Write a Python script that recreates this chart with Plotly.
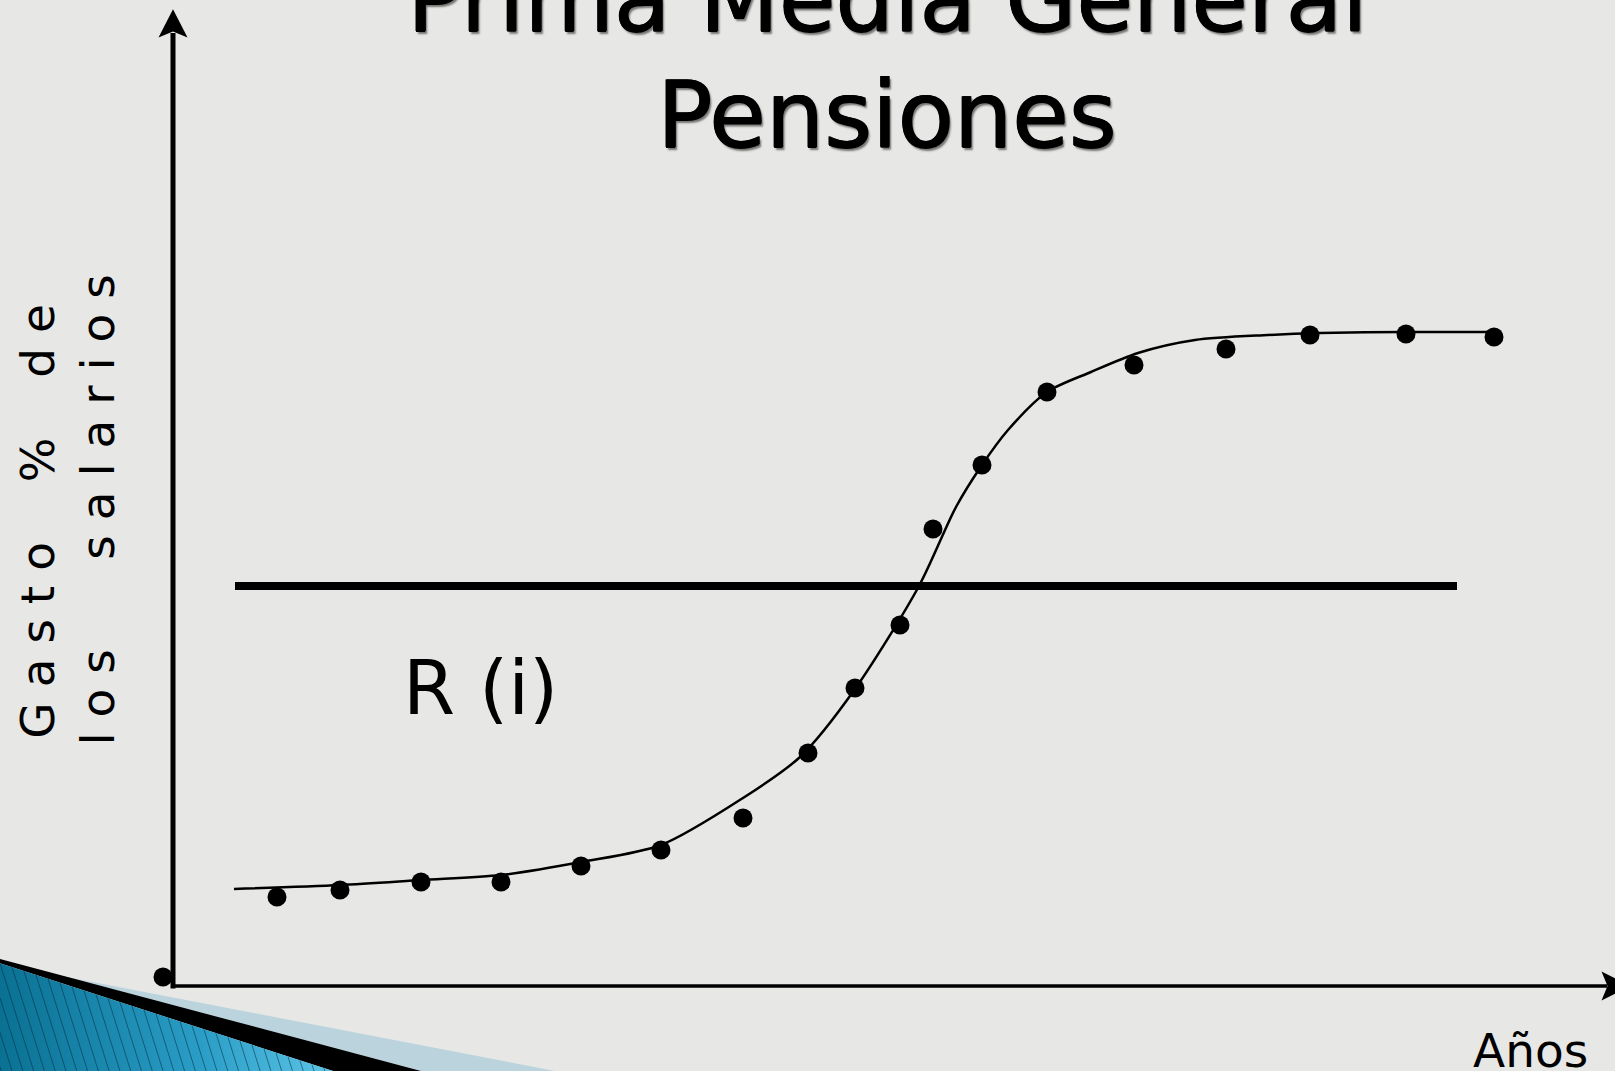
import plotly.graph_objects as go

# ---------------- data (chart units: x = años, y = gasto % de los salarios) ----------------
anos = [10.4, 16.7, 24.8, 32.8, 40.8, 48.8, 57.0, 63.5, 68.2, 72.7, 76.0, 80.9, 87.4, 96.1, 105.3, 113.7, 123.3, 132.1]
gasto = [8.9, 9.6, 10.4, 10.4, 12.0, 13.6, 16.8, 23.3, 29.8, 36.1, 45.7, 52.1, 59.4, 62.1, 63.7, 65.1, 65.2, 64.9]

origen_x = [-1.0]
origen_y = [0.9]

curva_x = [6.1, 16.7, 24.8, 32.8, 40.8, 48.8, 57.0, 62.7, 68.2, 74.6, 78.3, 80.9, 83.5, 87.4, 91.8, 96.5, 102.2, 109.5, 114.7, 123.3, 132.1]
curva_y = [9.7, 10.1, 10.6, 11.1, 12.4, 14.1, 18.8, 22.9, 29.7, 40.0, 47.9, 52.1, 55.6, 59.4, 61.4, 63.3, 64.6, 65.1, 65.3, 65.4, 65.4]

prima_x = [6.2, 128.4]
prima_y = [40.0, 40.0]

titulo_1 = "Prima Media General"
titulo_2 = "Pensiones"
etiqueta_r = "R (i)"
etiqueta_x = "Años"
NB = "\u00a0"
etiqueta_y1 = NB.join("Gasto") + NB * 4 + "%" + NB * 4 + NB.join("de")
etiqueta_y2 = NB.join("los") + NB * 6 + NB.join("salarios")

# ---------------- layout geometry ----------------
W, H = 1615, 1071
OX, OY, S = 173.0, 986.0, 10.0   # origin pixel and pixels per unit


def dx(p):
    return (p - OX) / S


def dy(p):
    return (OY - p) / S


def px_x(p):
    return p / W


def px_y(p):
    return 1 - p / H


BG = "#e7e7e5"
FONT = "DejaVu Sans"

fig = go.Figure()

# axes lines
fig.add_trace(go.Scatter(x=[0, 0], y=[dy(988.5), dy(33)], mode="lines",
                         line=dict(color="black", width=5), hoverinfo="skip", showlegend=False))
fig.add_trace(go.Scatter(x=[dx(171), dx(1607)], y=[0, 0], mode="lines",
                         line=dict(color="black", width=3.5), hoverinfo="skip", showlegend=False))

# horizontal R(i) line
fig.add_trace(go.Scatter(x=prima_x, y=prima_y, mode="lines",
                         line=dict(color="black", width=8), hoverinfo="skip", showlegend=False))

# fitted curve
fig.add_trace(go.Scatter(x=curva_x, y=curva_y, mode="lines",
                         line=dict(color="black", width=2.5, shape="spline", smoothing=0.8),
                         hoverinfo="skip", showlegend=False))

# points
fig.add_trace(go.Scatter(x=anos + origen_x, y=gasto + origen_y, mode="markers",
                         marker=dict(color="black", size=19, line=dict(width=0)),
                         showlegend=False))

# ---------------- decoration (pixel space axes) ----------------
deco = dict(xaxis="x2", yaxis="y2", mode="lines", hoverinfo="skip", showlegend=False)
fig.add_trace(go.Scatter(x=[60, 555, 421, 60], y=[975.8, 1071, 1071, 975.8], fill="toself",
                         fillcolor="rgba(150,195,215,0.55)", line=dict(width=0), **deco))
fig.add_trace(go.Scatter(x=[0, 421, 333, 0, 0], y=[959, 1071, 1071, 963.3, 959], fill="toself",
                         fillcolor="black", line=dict(width=0), **deco))
fig.add_trace(go.Scatter(x=[0, 333, 0, 0], y=[963.3, 1071, 1071, 963.3], fill="toself",
                         fillgradient=dict(type="horizontal",
                                           colorscale=[[0, "#0a7193"], [0.6, "#2a9dc6"], [1, "#5cc4e6"]]),
                         line=dict(width=0), **deco))
# thin diagonal stripes inside the blue wedge
sx, sy = [], []
STEEP = 3.2
for k in range(-9, 28):
    x0 = 12.0 * k
    if x0 >= 0:
        xa, ya = x0, 963.3 + 0.3243 * x0
    else:
        xa, ya = 0.0, 963.3 - x0 * STEEP * 0.9
        if ya >= 1071:
            continue
    xb = xa + (1071 - ya) / STEEP
    if xb > 333:
        continue
    sx += [xa, xb, None]
    sy += [ya, 1071, None]
fig.add_trace(go.Scatter(x=sx, y=sy, line=dict(color="rgba(5,45,70,0.55)", width=1), **deco))

# arrowheads
fig.add_shape(type="path", xref="x", yref="y",
              path=f"M {dx(173)},{dy(9.3)} L {dx(158.5)},{dy(37.5)} L {dx(173)},{dy(31.5)} L {dx(187.5)},{dy(37.5)} Z",
              fillcolor="black", line=dict(width=0))
fig.add_shape(type="path", xref="x", yref="y",
              path=f"M {dx(1630)},{dy(986)} L {dx(1601.5)},{dy(971.5)} L {dx(1607.5)},{dy(986)} L {dx(1601.5)},{dy(1000.5)} Z",
              fillcolor="black", line=dict(width=0))

# ---------------- text ----------------
title_font = dict(family=FONT, size=92, color="black",
                  shadow="0.8px 0 0 #000, -0.6px 0 0 #000, 0 0.6px 0 #000, 2px 3px 2px rgba(0,0,0,0.5)")
fig.add_annotation(x=px_x(887), y=px_y(-0.5), xref="paper", yref="paper", text=titulo_1, showarrow=False,
                   font=title_font, xanchor="center", yanchor="middle")
fig.add_annotation(x=px_x(887), y=px_y(115.5), xref="paper", yref="paper", text=titulo_2, showarrow=False,
                   font=title_font, xanchor="center", yanchor="middle")
fig.add_annotation(x=px_x(480), y=px_y(687.5), xref="paper", yref="paper", text=etiqueta_r, showarrow=False,
                   font=dict(family=FONT, size=75, color="black"), xanchor="center", yanchor="middle")
fig.add_annotation(x=px_x(1530), y=px_y(1050.7), xref="paper", yref="paper", text=etiqueta_x, showarrow=False,
                   font=dict(family=FONT, size=47, color="black"), xanchor="center", yanchor="middle")
fig.add_annotation(x=px_x(36.7), y=px_y(521), xref="paper", yref="paper",
                   text=etiqueta_y1, showarrow=False, textangle=-90,
                   font=dict(family=FONT, size=47, color="black"), xanchor="center", yanchor="middle")
fig.add_annotation(x=px_x(96.5), y=px_y(510), xref="paper", yref="paper",
                   text=etiqueta_y2, showarrow=False, textangle=-90,
                   font=dict(family=FONT, size=47, color="black"), xanchor="center", yanchor="middle")

fig.update_layout(
    width=W, height=H, autosize=False,
    margin=dict(l=0, r=0, t=0, b=0, pad=0),
    paper_bgcolor=BG, plot_bgcolor=BG,
    xaxis=dict(range=[dx(0), dx(W)], visible=False, fixedrange=True),
    yaxis=dict(range=[dy(H), dy(0)], visible=False, fixedrange=True),
    xaxis2=dict(range=[0, W], visible=False, overlaying="x", fixedrange=True),
    yaxis2=dict(range=[H, 0], visible=False, overlaying="y", fixedrange=True),
    showlegend=False,
)

fig.write_html("out.html", config={"displayModeBar": False},
               post_script="document.body.style.margin='0';document.body.style.overflow='hidden';")
